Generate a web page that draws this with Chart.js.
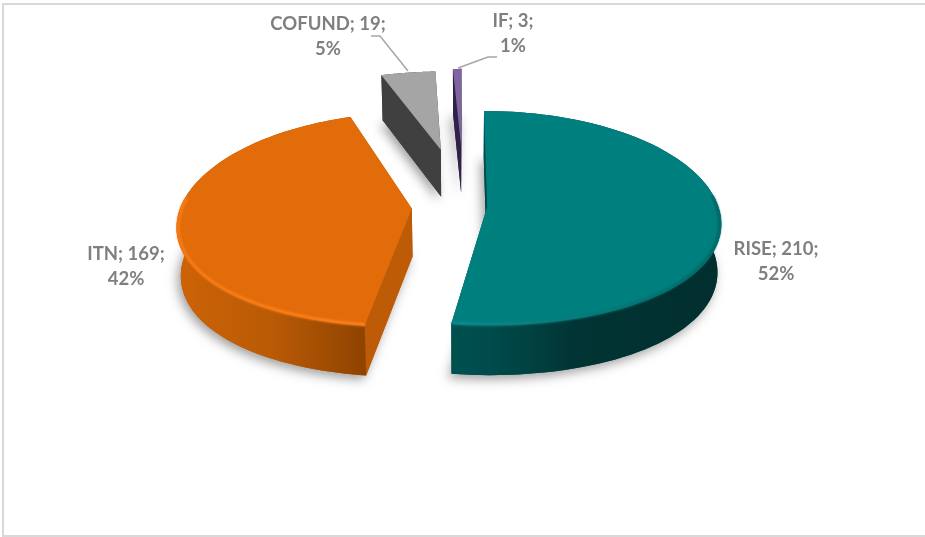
<!DOCTYPE html>
<html>
<head>
<meta charset="utf-8">
<title>Funding actions</title>
<script src="https://cdn.jsdelivr.net/npm/chart.js@4"></script>
<style>
  html, body { margin: 0; padding: 0; background: #fff; }
  canvas { display: block; }
</style>
</head>
<body>
<canvas id="pie" width="925" height="537"></canvas>
<script>
const categories = ['RISE', 'ITN', 'COFUND', 'IF'];
const counts = [210, 169, 19, 3];
const percents = [52, 42, 5, 1];
const explode = [16, 36, 89, 94];

const topColors = ['#007f7f', '#e26b0a', '#a5a5a5', '#8064a2'];
const cutColors = ['#004c4c', '#bd5b07', '#404040', '#2f2148'];
const wallStops = [
  [[0, '#005050'], [0.15, '#004b4b'], [0.33, '#013f3f'], [0.46, '#013434'], [1, '#022e2e']],
  [[0, '#cc6306'], [0.5, '#b95a06'], [1, '#8e4300']],
  [[0, '#404040'], [1, '#404040']],
  [[0, '#2f2148'], [1, '#2f2148']]
];
const rimColors = [
  ['#0f8d8d', '#006664'],
  ['#fa7c16', '#ff8420'],
  null,
  null
];
const labelSpots = [[776, 249], [126, 254], [328, 24], [513, 21]];
const leaders = [
  null,
  null,
  [[371, 36], [380, 36], [408, 71]],
  [[458, 68], [488, 57], [497, 57]]
];

const DRAW_ORDER = [2, 3, 1, 0];
const DISC_WIDTH = 231;   // on-screen radius of the disc
const DISC_DEPTH = 110;   // foreshortened radius along the view axis
const THICKNESS = 48;
const BASE_SHRINK = 0.985; // the underside sits a little further from the viewer
const LINE_GAP = 25.5;
const ARC_STEPS = 90;

// Tilted-disc projection with a slight perspective: far points shrink.
function projector(el) {
  const R = el.outerRadius;
  const zoom = DISC_WIDTH / R;
  const mid = (el.startAngle + el.endAngle) / 2;
  const off = el.options.offset;
  const ox = Math.cos(mid) * off;
  const oz = Math.sin(mid) * off;
  return function (r, a, drop) {
    const X = ox + r * Math.cos(a);
    const Z = oz + r * Math.sin(a);
    const z = Z / R;
    const denX = 1 - 0.145 * z + 0.015 * z * z;
    const denY = 1 - 0.11 * z + 0.04 * z * z;
    return [
      el.x + (X * zoom / denX) * (drop ? BASE_SHRINK : 1),
      el.y + Z * (DISC_DEPTH / R) / denY + (drop ? THICKNESS * (1 + 0.04 * z) : 0)
    ];
  };
}

function polygon(ctx, pts) {
  ctx.beginPath();
  pts.forEach((p, i) => i ? ctx.lineTo(p[0], p[1]) : ctx.moveTo(p[0], p[1]));
  ctx.closePath();
}

function arcPoints(project, r, a0, a1, drop) {
  const pts = [];
  for (let i = 0; i <= ARC_STEPS; i++) {
    pts.push(project(r, a0 + (a1 - a0) * i / ARC_STEPS, drop));
  }
  return pts;
}

function drawSlice(ctx, el, i) {
  const project = projector(el);
  const R = el.outerRadius;
  const a0 = el.startAngle;
  const a1 = el.endAngle;
  const rimTop = arcPoints(project, R, a0, a1, false);
  const rimBase = arcPoints(project, R, a0, a1, true);
  const apexTop = project(0, a0, false);
  const apexBase = project(0, a0, true);

  // Soft ground shadow under the slice
  ctx.save();
  ctx.shadowColor = 'rgba(0,0,0,0.38)';
  ctx.shadowBlur = 11;
  ctx.shadowOffsetX = -3;
  ctx.shadowOffsetY = 4;
  ctx.fillStyle = cutColors[i];
  polygon(ctx, [apexBase].concat(rimBase));
  ctx.fill();
  ctx.restore();

  // Straight cut faces
  ctx.fillStyle = cutColors[i];
  polygon(ctx, [apexTop, rimTop[0], rimBase[0], apexBase]);
  ctx.fill();
  polygon(ctx, [apexTop, rimTop[ARC_STEPS], rimBase[ARC_STEPS], apexBase]);
  ctx.fill();

  // Curved outer wall, shaded across its width
  const xs = rimBase.map(p => p[0]);
  const wall = ctx.createLinearGradient(Math.min(...xs), 0, Math.max(...xs), 0);
  wallStops[i].forEach(s => wall.addColorStop(s[0], s[1]));
  ctx.fillStyle = wall;
  polygon(ctx, rimTop.concat(rimBase.slice().reverse()));
  ctx.fill();

  // Top face
  ctx.fillStyle = topColors[i];
  polygon(ctx, [apexTop].concat(rimTop));
  ctx.fill();

  // Bevelled rim along the near edge
  if (rimColors[i]) {
    const from = i === 0 ? -0.1 : a0;
    const to = i === 1 ? Math.PI * 1.03 : a1;
    const bevel = arcPoints(project, R * 0.992, from, to, false);
    const bx = bevel.map(p => p[0]);
    const stroke = ctx.createLinearGradient(Math.min(...bx), 0, Math.max(...bx), 0);
    stroke.addColorStop(0, rimColors[i][0]);
    stroke.addColorStop(1, rimColors[i][1]);
    ctx.save();
    ctx.filter = 'blur(1px)';
    ctx.strokeStyle = stroke;
    ctx.lineWidth = 3;
    ctx.beginPath();
    bevel.forEach((p, k) => k ? ctx.lineTo(p[0], p[1]) : ctx.moveTo(p[0], p[1]));
    ctx.stroke();
    ctx.restore();
  }
}

const explodedPie = {
  id: 'explodedPie',
  beforeDatasetDraw(chart, args) {
    const ctx = chart.ctx;
    const arcs = chart.getDatasetMeta(args.index).data;
    DRAW_ORDER.forEach(i => drawSlice(ctx, arcs[i], i));
    return false;
  },
  afterDraw(chart) {
    const ctx = chart.ctx;
    ctx.save();

    ctx.strokeStyle = '#a6a6a6';
    ctx.lineWidth = 1.5;
    leaders.forEach(line => {
      if (!line) return;
      ctx.beginPath();
      line.forEach((p, k) => k ? ctx.lineTo(p[0], p[1]) : ctx.moveTo(p[0], p[1]));
      ctx.stroke();
    });

    ctx.fillStyle = '#7f7f7f';
    ctx.font = 'bold 18.5px Lato';
    ctx.textAlign = 'center';
    ctx.textBaseline = 'middle';
    categories.forEach((name, i) => {
      const [x, y] = labelSpots[i];
      ctx.fillText(name + '; ' + counts[i] + ';', x, y);
      ctx.fillText(percents[i] + '%', x, y + LINE_GAP);
    });

    // Chart frame
    ctx.strokeStyle = '#d9d9d9';
    ctx.lineWidth = 2;
    ctx.strokeRect(3, 4, 930, 532);
    ctx.restore();
  }
};

new Chart(document.getElementById('pie'), {
  type: 'pie',
  data: {
    labels: categories,
    datasets: [{
      data: counts,
      backgroundColor: topColors,
      borderWidth: 0,
      offset: explode
    }]
  },
  options: {
    responsive: false,
    animation: false,
    rotation: 0,
    events: [],
    layout: { padding: { left: 3, right: 0, top: 0, bottom: 125 } },
    plugins: { legend: { display: false }, tooltip: { enabled: false } }
  },
  plugins: [explodedPie]
});
</script>
</body>
</html>
